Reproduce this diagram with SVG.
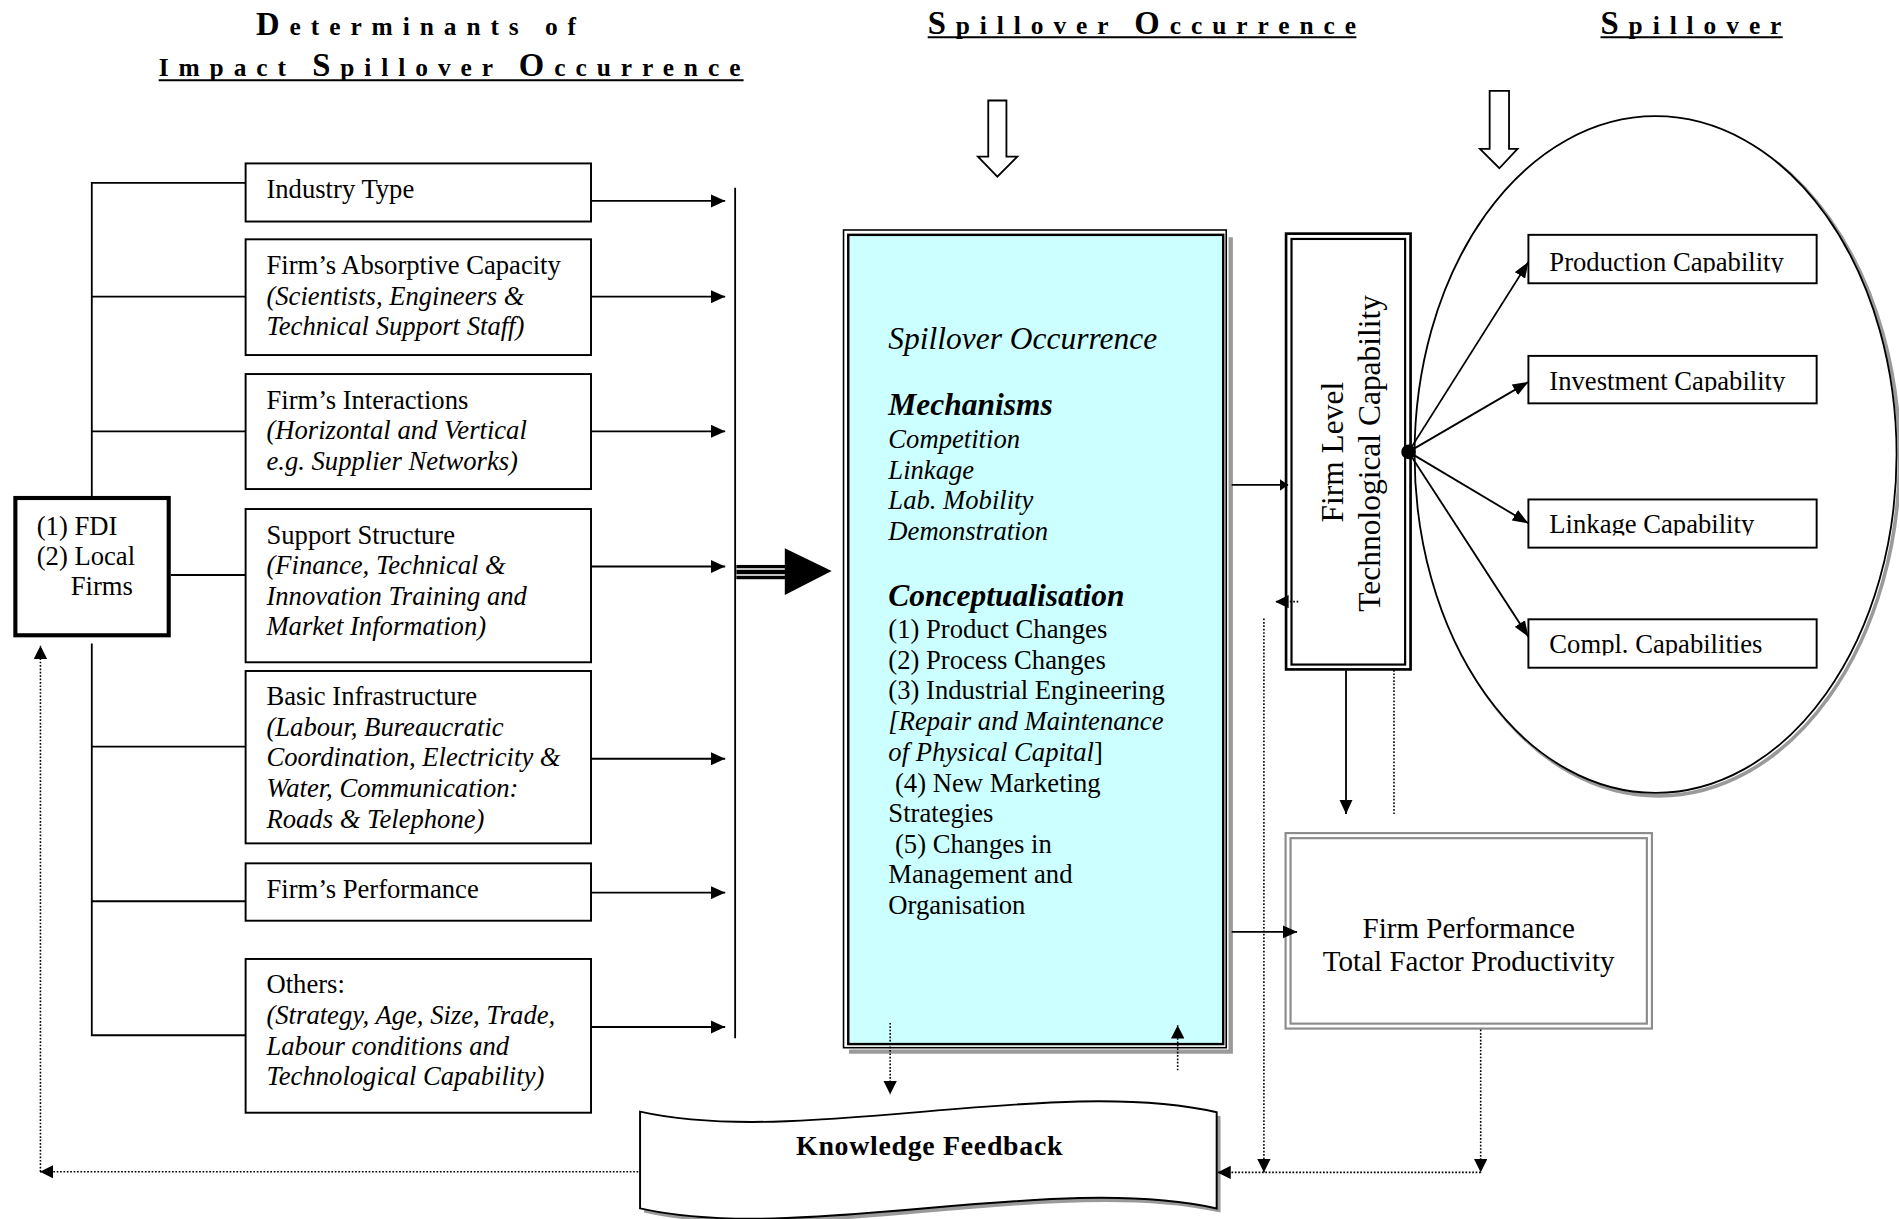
<svg xmlns="http://www.w3.org/2000/svg" width="1899" height="1219" viewBox="0 0 1899 1219">
<defs>
<style>
text{font-family:"Liberation Serif","Times New Roman",serif;fill:#000}
.t{font-size:22px}
.i{font-style:italic}
.bi{font-style:italic;font-weight:bold}
.ttl{font-size:21px;font-weight:bold;letter-spacing:8.2px}
.big{font-size:27px}
.box{fill:#fff;stroke:#000;stroke-width:1.6}
.ln{fill:none;stroke:#000;stroke-width:1.5}
.dot{fill:none;stroke:#000;stroke-width:1.3;stroke-dasharray:1.4 1.4}
.ul{stroke:#000;stroke-width:1.6}
</style>
<marker id="ah" viewBox="0 0 12 11" refX="12" refY="5.5" markerWidth="12" markerHeight="11" markerUnits="userSpaceOnUse" orient="auto"><path d="M0,0 L12,5.5 L0,11 z" fill="#000"/></marker>
<marker id="ahc" viewBox="0 0 13 10" refX="13" refY="5" markerWidth="13" markerHeight="10" markerUnits="userSpaceOnUse" orient="auto"><path d="M0,0 L13,5 L0,10 z" fill="#000"/></marker>
<marker id="ahs" viewBox="0 0 11 11" refX="11" refY="5.5" markerWidth="11" markerHeight="11" markerUnits="userSpaceOnUse" orient="auto"><path d="M0,0 L11,5.5 L0,11 z" fill="#000"/></marker>
<marker id="ahf" viewBox="0 0 7 10" refX="7" refY="5" markerWidth="7" markerHeight="10" markerUnits="userSpaceOnUse" orient="auto"><path d="M0,0 L7,5 L0,10 z" fill="#000"/></marker>
<clipPath id="c1"><rect x="1262" y="194" width="238" height="31.3"/></clipPath>
<clipPath id="c2"><rect x="1262" y="294" width="238" height="29.8"/></clipPath>
<clipPath id="c3"><rect x="1262" y="413" width="238" height="29.3"/></clipPath>
<clipPath id="c4"><rect x="1262" y="512" width="238" height="29.4"/></clipPath>
</defs>
<rect x="0" y="0" width="1899" height="1219" fill="#fff"/>
<g transform="scale(1.21110 1.21052)">

<g id="titles">
<text class="ttl" x="211.4" y="28.9"><tspan class="big">D</tspan>eterminants of</text>
<text class="ttl" x="131" y="62.8">Impact <tspan class="big">S</tspan>pillover <tspan class="big">O</tspan>ccurrence</text>
<line class="ul" x1="131" y1="66.3" x2="614" y2="66.3"/>
<text class="ttl" x="766" y="27.8"><tspan class="big">S</tspan>pillover <tspan class="big">O</tspan>ccurrence</text>
<line class="ul" x1="766" y1="30.8" x2="1120" y2="30.8"/>
<text class="ttl" x="1321.5" y="27.8"><tspan class="big">S</tspan>pillover</text>
<line class="ul" x1="1321.5" y1="30.8" x2="1472" y2="30.8"/>
</g>

<g id="down-arrows">
<polygon points="816,83 831,83 831,129.4 840,129.4 823.5,146 807.5,129.4 816,129.4" fill="#fff" stroke="#000" stroke-width="1.5"/>
<polygon points="1230,75 1246,75 1246,123 1253,123 1238,139 1222,123 1230,123" fill="#fff" stroke="#000" stroke-width="1.5"/>
</g>

<g id="fdi">
<rect x="12.7" y="411.4" width="126.6" height="113.4" fill="#fff" stroke="#000" stroke-width="3.4"/>
<text class="t" x="30.3" y="442">(1) FDI</text>
<text class="t" x="30.3" y="466.7">(2) Local</text>
<text class="t" x="58.4" y="491.5">Firms</text>
</g>

<g id="industry-type">
<rect class="box" x="202.8" y="135" width="285.2" height="48"/>
<text class="t" x="220" y="163.6">Industry Type</text>
</g>
<g id="absorptive-capacity">
<rect class="box" x="202.8" y="197.7" width="285.2" height="95.6"/>
<text class="t" x="220" y="226.3">Firm’s Absorptive Capacity</text>
<text class="t i" x="220" y="251.6">(Scientists, Engineers &amp;</text>
<text class="t i" x="220" y="276.9">Technical Support Staff)</text>
</g>
<g id="interactions">
<rect class="box" x="202.8" y="309" width="285.2" height="95"/>
<text class="t" x="220" y="337.6">Firm’s Interactions</text>
<text class="t i" x="220" y="362.9">(Horizontal and Vertical</text>
<text class="t i" x="220" y="388.2">e.g. Supplier Networks)</text>
</g>
<g id="support-structure">
<rect class="box" x="202.8" y="420.5" width="285.2" height="126.6"/>
<text class="t" x="220" y="449">Support Structure</text>
<text class="t i" x="220" y="474.3">(Finance, Technical &amp;</text>
<text class="t i" x="220" y="499.6">Innovation Training and</text>
<text class="t i" x="220" y="524.9">Market Information)</text>
</g>
<g id="basic-infrastructure">
<rect class="box" x="202.8" y="554.3" width="285.2" height="142.4"/>
<text class="t" x="220" y="582.6">Basic Infrastructure</text>
<text class="t i" x="220" y="607.9">(Labour, Bureaucratic</text>
<text class="t i" x="220" y="633.2">Coordination, Electricity &amp;</text>
<text class="t i" x="220" y="658.5">Water, Communication:</text>
<text class="t i" x="220" y="683.8">Roads &amp; Telephone)</text>
</g>
<g id="firms-performance">
<rect class="box" x="202.8" y="713.2" width="285.2" height="47.4"/>
<text class="t" x="220" y="742">Firm’s Performance</text>
</g>
<g id="others">
<rect class="box" x="202.8" y="792.2" width="285.2" height="127"/>
<text class="t" x="220" y="820.6">Others:</text>
<text class="t i" x="220" y="845.9">(Strategy, Age, Size, Trade,</text>
<text class="t i" x="220" y="871.2">Labour conditions and</text>
<text class="t i" x="220" y="896.5">Technological Capability)</text>
</g>

<g id="spillover-occurrence">
<path d="M1016.2,196 V868.7 H701" fill="none" stroke="#9a9a9a" stroke-width="3.6"/>
<rect x="696.5" y="190" width="316" height="675.5" fill="#fff" stroke="#000" stroke-width="1.3"/>
<rect x="700.4" y="194" width="309.6" height="668.5" fill="#ccffff" stroke="#000" stroke-width="2"/>
<text class="i" x="733.5" y="288" font-size="26">Spillover Occurrence</text>
<text class="bi" x="733.5" y="343" font-size="26">Mechanisms</text>
<text class="t i" x="733.5" y="370">Competition</text>
<text class="t i" x="733.5" y="395.3">Linkage</text>
<text class="t i" x="733.5" y="420.7">Lab. Mobility</text>
<text class="t i" x="733.5" y="446">Demonstration</text>
<text class="bi" x="733.5" y="500.6" font-size="26">Conceptualisation</text>
<text class="t" x="733.5" y="527.3">(1) Product Changes</text>
<text class="t" x="733.5" y="552.5">(2) Process Changes</text>
<text class="t" x="733.5" y="577.8">(3) Industrial Engineering</text>
<text class="t i" x="733.5" y="603">[Repair and Maintenance</text>
<text class="t" x="733.5" y="628.3"><tspan class="i">of Physical Capital</tspan>]</text>
<text class="t" x="739" y="654">(4) New Marketing</text>
<text class="t" x="733.5" y="679.2">Strategies</text>
<text class="t" x="739" y="704.5">(5) Changes in</text>
<text class="t" x="733.5" y="729.8">Management and</text>
<text class="t" x="733.5" y="755">Organisation</text>
</g>

<g id="spillover-ellipse">
<ellipse cx="1369.5" cy="378" rx="199" ry="279.5" fill="none" stroke="#9a9a9a" stroke-width="3"/>
<ellipse cx="1367" cy="375.5" rx="199" ry="279.5" fill="#fff" stroke="#000" stroke-width="1.5"/>
</g>

<g id="firm-level">
<rect x="1061.9" y="193" width="102.8" height="360" fill="#fff" stroke="#000" stroke-width="2.2"/>
<rect x="1066.4" y="197.4" width="93.8" height="351.6" fill="none" stroke="#000" stroke-width="1.8"/>
<text font-size="26" text-anchor="middle" transform="translate(1109,373.5) rotate(-90)">Firm Level</text>
<text font-size="26" text-anchor="middle" transform="translate(1139.5,374.5) rotate(-90)">Technological Capability</text>
</g>

<g id="production-capability">
<rect class="box" x="1262" y="194" width="238" height="40"/>
<text class="t" x="1279.3" y="223.6" clip-path="url(#c1)">Production Capability</text>
</g>
<g id="investment-capability">
<rect class="box" x="1262" y="294" width="238" height="39.2"/>
<text class="t" x="1279.3" y="322.1" clip-path="url(#c2)">Investment Capability</text>
</g>
<g id="linkage-capability">
<rect class="box" x="1262" y="412.6" width="238" height="39.8"/>
<text class="t" x="1279.3" y="440.6" clip-path="url(#c3)">Linkage Capability</text>
</g>
<g id="compl-capabilities">
<rect class="box" x="1262" y="511.6" width="238" height="40"/>
<text class="t" x="1279.3" y="539.7" clip-path="url(#c4)">Compl. Capabilities</text>
</g>

<g id="firm-performance">
<rect x="1061.5" y="688.2" width="302.5" height="161.5" fill="#fff" stroke="#8c8c8c" stroke-width="1.8"/>
<rect x="1065.6" y="692.4" width="294.2" height="153.2" fill="none" stroke="#8c8c8c" stroke-width="1.8"/>
<text font-size="24" text-anchor="middle" x="1212.7" y="775">Firm Performance</text>
<text font-size="24" text-anchor="middle" x="1212.7" y="802">Total Factor Productivity</text>
</g>

<g id="knowledge-feedback">
<path d="M528.5,918.3 C660,948 870,888 1004.6,918.8 L1004.6,998.3 C870,968 660,1028 528.5,998.2 Z" fill="#9a9a9a" transform="translate(3.2,3.4)"/>
<path d="M528.5,918.3 C660,948 870,888 1004.6,918.8 L1004.6,998.3 C870,968 660,1028 528.5,998.2 Z" fill="#fff" stroke="#000" stroke-width="1.6"/>
<text font-size="23" font-weight="bold" text-anchor="middle" x="767.3" y="954.2" textLength="220" lengthAdjust="spacing">Knowledge Feedback</text>
</g>

<g id="connectors">
<path class="ln" d="M75.8,409.7 V151 H202.8"/>
<path class="ln" d="M75.8,531.5 V855.2 H202.8"/>
<line class="ln" x1="75.8" y1="245.1" x2="202.8" y2="245.1"/>
<line class="ln" x1="75.8" y1="356.3" x2="202.8" y2="356.3"/>
<line class="ln" x1="141" y1="475" x2="202.8" y2="475"/>
<line class="ln" x1="75.8" y1="616.8" x2="202.8" y2="616.8"/>
<line class="ln" x1="75.8" y1="744.5" x2="202.8" y2="744.5"/>
<line class="ln" x1="488" y1="166" x2="598.8" y2="166" marker-end="url(#ah)"/>
<line class="ln" x1="488" y1="245.1" x2="598.8" y2="245.1" marker-end="url(#ah)"/>
<line class="ln" x1="488" y1="356.3" x2="598.8" y2="356.3" marker-end="url(#ah)"/>
<line class="ln" x1="488" y1="468" x2="598.8" y2="468" marker-end="url(#ah)"/>
<line class="ln" x1="488" y1="626.8" x2="598.8" y2="626.8" marker-end="url(#ah)"/>
<line class="ln" x1="488" y1="737.4" x2="598.8" y2="737.4" marker-end="url(#ah)"/>
<line class="ln" x1="488" y1="848.4" x2="598.8" y2="848.4" marker-end="url(#ah)"/>
<line class="ln" x1="607" y1="155" x2="607" y2="857.7"/>
<rect x="608" y="466.7" width="41" height="11.8" fill="#000"/>
<line x1="608" y1="470" x2="649" y2="470" stroke="#fff" stroke-width="1.3"/>
<line x1="608" y1="475" x2="649" y2="475" stroke="#fff" stroke-width="1.3"/>
<polygon points="648,453 686.7,471.8 648,491.5" fill="#000"/>
<line class="ln" x1="1017" y1="400.6" x2="1063.6" y2="400.6" marker-end="url(#ahf)"/>
<line class="ln" x1="1017" y1="769.8" x2="1071" y2="769.8" marker-end="url(#ah)"/>
<line class="ln" x1="1111.4" y1="553.8" x2="1111.4" y2="672.5" marker-end="url(#ah)"/>
<line class="dot" x1="1151" y1="553.5" x2="1151" y2="672.5"/>
<line class="ln" x1="1163" y1="373.3" x2="1262" y2="216.5" marker-end="url(#ahc)"/>
<line class="ln" x1="1163" y1="373.3" x2="1262" y2="315.5" marker-end="url(#ahc)"/>
<line class="ln" x1="1163" y1="373.3" x2="1262" y2="432.3" marker-end="url(#ahc)"/>
<line class="ln" x1="1163" y1="373.3" x2="1262" y2="526" marker-end="url(#ahc)"/>
<circle cx="1163" cy="373.3" r="6" fill="#000"/>
<line class="dot" x1="1072" y1="497" x2="1053" y2="497" marker-end="url(#ahs)"/>
<line class="dot" x1="1043.6" y1="511" x2="1043.6" y2="968.5" marker-end="url(#ahs)"/>
<line class="dot" x1="1222.6" y1="850.5" x2="1222.6" y2="968.5" marker-end="url(#ahs)"/>
<line class="dot" x1="1222.6" y1="968.5" x2="1005.2" y2="968.5" marker-end="url(#ahs)"/>
<line class="dot" x1="735" y1="845" x2="735" y2="904" marker-end="url(#ahs)"/>
<line class="dot" x1="972.4" y1="884.2" x2="972.4" y2="846.9" marker-end="url(#ahs)"/>
<line class="dot" x1="527" y1="968" x2="33" y2="968" marker-end="url(#ahs)"/>
<line class="dot" x1="33.4" y1="968" x2="33.4" y2="533.4" marker-end="url(#ahs)"/>
</g>
</g>
</svg>
